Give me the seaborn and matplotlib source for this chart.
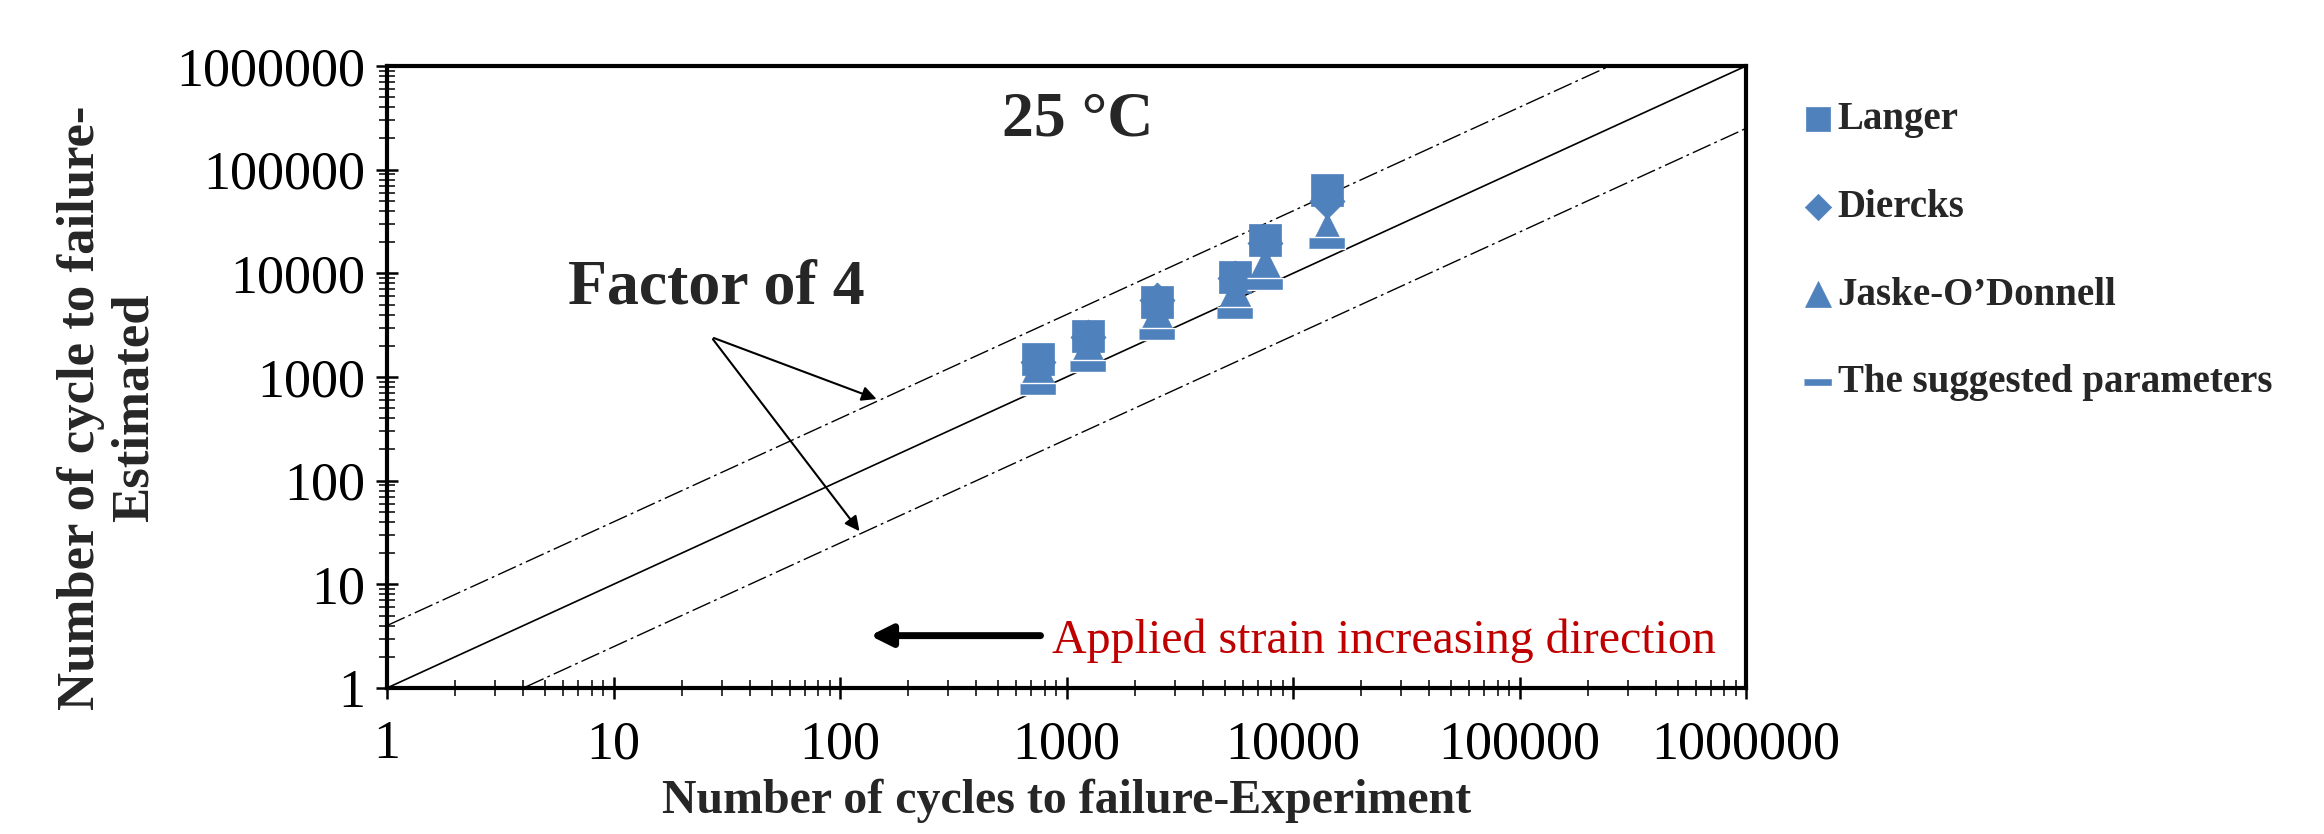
import matplotlib
matplotlib.use("Agg")
import matplotlib.pyplot as plt
from matplotlib.ticker import FuncFormatter, NullFormatter, LogLocator
import pandas as pd
import seaborn as sns

# ---------- Data ----------
exp_cycles = [750, 1250, 2500, 5550, 7500, 14100]
langer = [1500, 2500, 5300, 9200, 21000, 63000]
diercks = [1400, 2450, 5500, 9000, 19500, 50000]
jaske = [1230, 1950, 3960, 6450, 12000, 26000]
suggested = [760, 1275, 2600, 4150, 7900, 19500]

series_names = ["Langer", "Diercks", "Jaske-O\u2019Donnell", "The suggested parameters"]
ref_x = [1, 1e6]
factor = 4

BLUE = "#4F81BD"
dash_marker = [(-1, -0.3), (1, -0.3), (1, 0.3), (-1, 0.3)]

# ---------- Style ----------
sns.set_style("ticks")
plt.rcParams["font.family"] = ["Liberation Serif", "DejaVu Serif"]

fig = plt.figure(figsize=(23.24, 8.34), dpi=100)
ax = fig.add_axes([387 / 2324, 1 - 688 / 834, 1359 / 2324, 622 / 834])
ax.set_xscale("log")
ax.set_yscale("log")

# reference lines: 1:1 and factor of 4
ax.plot(ref_x, ref_x, color="black", lw=1.2, zorder=1)
ax.plot(ref_x, [v * factor for v in ref_x], color="black", lw=1.0,
        linestyle=(0, (14, 3, 2, 3)), zorder=1)
ax.plot(ref_x, [v / factor for v in ref_x], color="black", lw=1.0,
        linestyle=(0, (14, 3, 2, 3)), zorder=1)

df = pd.DataFrame({"exp": exp_cycles, "Langer": langer, "Diercks": diercks,
                   "Jaske": jaske, "Suggested": suggested})

sns.scatterplot(data=df, x="exp", y="Langer", marker="s", s=560, color=BLUE,
                edgecolor=BLUE, linewidth=0.5, label=series_names[0], ax=ax, zorder=3)
sns.scatterplot(data=df, x="exp", y="Diercks", marker="D", s=320, color=BLUE,
                edgecolor=BLUE, linewidth=0.5, label=series_names[1], ax=ax, zorder=3)
sns.scatterplot(data=df, x="exp", y="Jaske", marker="^", s=620, color=BLUE,
                edgecolor=BLUE, linewidth=0.5, label=series_names[2], ax=ax, zorder=3)
sns.scatterplot(data=df, x="exp", y="Suggested", marker=dash_marker, s=700, color=BLUE,
                edgecolor="white", linewidth=1.0, label=series_names[3], ax=ax, zorder=4)

ax.set_xlim(1, 1e6)
ax.set_ylim(1, 1e6)

# ---------- Axes & ticks ----------
for sp in ax.spines.values():
    sp.set_linewidth(3)
    sp.set_color("black")

fmt = FuncFormatter(lambda v, p: f"{v:.0f}")
for axis in (ax.xaxis, ax.yaxis):
    axis.set_major_locator(LogLocator(base=10, numticks=10))
    axis.set_minor_locator(LogLocator(base=10, subs=range(2, 10), numticks=20))
    axis.set_major_formatter(fmt)
    axis.set_minor_formatter(NullFormatter())

ax.tick_params(which="major", direction="inout", length=16, width=1.8,
               labelsize=39, colors="black")
ax.tick_params(which="minor", direction="inout", length=11, width=1.3)
ax.tick_params(axis="x", which="major", pad=15)
ax.tick_params(axis="y", which="major", pad=8)

ax.set_xlabel("Number of cycles to failure-Experiment", fontsize=34.5,
              fontweight="bold")
ax.xaxis.set_label_coords(0.5, -0.146)
ax.set_ylabel("Number of cycle to failure-\nEstimated", fontsize=38,
              fontweight="bold", linespacing=1.15)
ax.yaxis.set_label_coords(-0.168, 0.45)

# ---------- Annotations ----------
ax.text(0.508, 0.913, "25 \u00b0C", transform=ax.transAxes, ha="center",
        va="center", fontsize=46, fontweight="bold")
ax.text(0.242, 0.643, "Factor of 4", transform=ax.transAxes, ha="center",
        va="center", fontsize=46, fontweight="bold")

arrow_start = (27, 2430)
for end in [(149, 600), (124, 31)]:
    ax.annotate("", xy=end, xytext=arrow_start,
                arrowprops=dict(arrowstyle="-|>", color="black", lw=1.5,
                                mutation_scale=22))

ax.annotate("", xy=(132, 3.2), xytext=(790, 3.2),
            arrowprops=dict(arrowstyle="-|>", color="black", lw=5,
                            mutation_scale=32))
ax.text(0.489, 0.0756, "Applied strain increasing direction", transform=ax.transAxes,
        ha="left", va="center", fontsize=34.5, color="#C00000")

# ---------- Legend ----------
ax.legend(loc="upper left", bbox_to_anchor=(1787 / 2324, 1 - 82 / 834),
          bbox_transform=fig.transFigure, frameon=False,
          prop={"weight": "bold", "size": 28}, markerscale=0.75,
          handlelength=0.6, handletextpad=0.2, labelspacing=1.3,
          borderpad=0)

fig.savefig("out.png", dpi=100)
